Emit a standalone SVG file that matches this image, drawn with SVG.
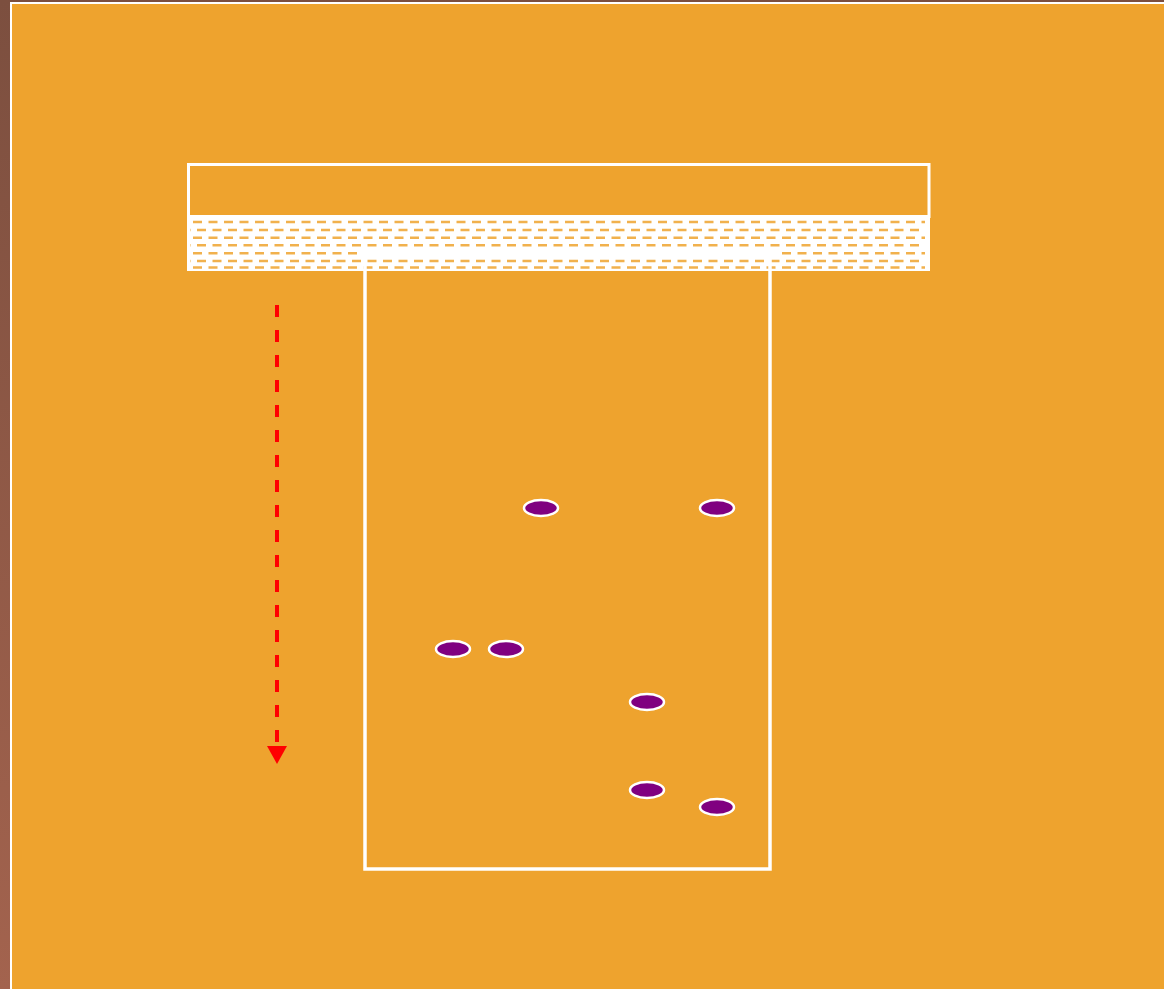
<svg xmlns="http://www.w3.org/2000/svg" width="1164" height="989" viewBox="0 0 1164 989">
<defs>
<linearGradient id="bg" x1="0" y1="0" x2="0" y2="1">
<stop offset="0" stop-color="#7C4F3F"/>
<stop offset="1" stop-color="#A3634E"/>
</linearGradient>
<marker id="ah" markerWidth="5" markerHeight="5" refX="0" refY="2.5" orient="auto" markerUnits="strokeWidth">
<path d="M0,0 L4.5,2.5 L0,5 Z" fill="#FF0000"/>
</marker>
<style>
.spot{fill:#800080;stroke:#FFFFFF;stroke-width:2.5}
.fl{stroke:#EEA32E;stroke-width:2.5;stroke-dasharray:9 6.5;fill:none;opacity:0.85}
</style>
</defs>
<rect x="0" y="0" width="1164" height="989" fill="url(#bg)"/>
<rect x="10" y="2" width="1154" height="987" fill="#FFFFFF"/>
<rect x="12" y="4" width="1152" height="985" fill="#EEA32E"/>
<g id="plate-top">
<rect x="188.5" y="164.5" width="740.5" height="52" fill="none" stroke="#FFFFFF" stroke-width="3"/>
</g>
<g id="solvent">
<rect x="187" y="215" width="743" height="56" fill="#FFFFFF"/>
<path class="fl" d="M193,222H925"/>
<path class="fl" d="M190,230H925" stroke-dashoffset="-7"/>
<path class="fl" d="M193,237.7H925"/>
<path class="fl" d="M190,245.3H925" stroke-dashoffset="-7"/>
<path class="fl" d="M193,253.3H925"/>
<path class="fl" d="M190,261H925" stroke-dashoffset="-7"/>
<path class="fl" d="M193,267.5H925"/>
<rect x="362" y="250" width="414" height="7" fill="#FFFFFF"/>
</g>
<g id="plate">
<rect x="365" y="255" width="405" height="614" fill="none" stroke="#FFFFFF" stroke-width="3.5"/>
</g>
<g id="connectors">
<path d="M277,305V746" stroke="#FF0000" stroke-width="4" stroke-dasharray="12 13" fill="none" marker-end="url(#ah)"/>
</g>
<g id="spots">
<ellipse class="spot" cx="541" cy="508" rx="17" ry="8"/>
<ellipse class="spot" cx="717" cy="508" rx="17" ry="8"/>
<ellipse class="spot" cx="453" cy="649" rx="17" ry="8"/>
<ellipse class="spot" cx="506" cy="649" rx="17" ry="8"/>
<ellipse class="spot" cx="647" cy="702" rx="17" ry="8"/>
<ellipse class="spot" cx="647" cy="790" rx="17" ry="8"/>
<ellipse class="spot" cx="717" cy="807" rx="17" ry="8"/>
</g>
</svg>
